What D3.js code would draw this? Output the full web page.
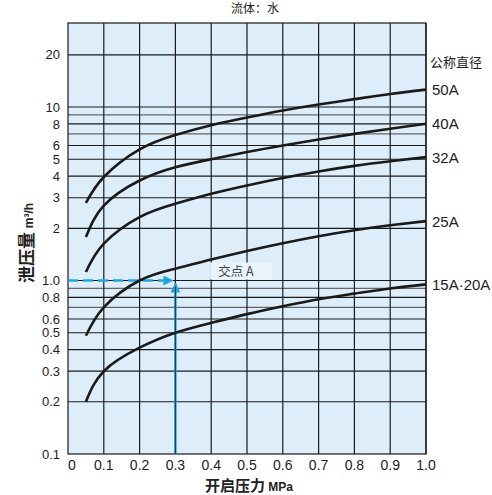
<!DOCTYPE html>
<html>
<head>
<meta charset="utf-8">
<script src="https://cdn.jsdelivr.net/npm/d3@7"></script>
<style>
  body { margin: 0; background: #fff; }
  svg { display: block; }
</style>
</head>
<body>
<div id="chart-area"></div>
<script>
// values
var pressure = [0.05, 0.1, 0.2, 0.3, 0.4, 0.5, 0.6, 0.7, 0.8, 0.9, 1.0];
var flow50A = [2.8, 3.95, 5.7, 6.9, 7.85, 8.7, 9.55, 10.35, 11.1, 11.9, 12.6];
var flow40A = [1.78, 2.7, 3.77, 4.5, 5.0, 5.5, 6.0, 6.5, 7.0, 7.5, 8.0];
var flow32A = [1.12, 1.63, 2.32, 2.77, 3.16, 3.53, 3.9, 4.25, 4.58, 4.87, 5.14];
var flow25A = [0.48, 0.7, 1.0, 1.17, 1.32, 1.48, 1.64, 1.8, 1.95, 2.08, 2.2];
var flow15A = [0.2, 0.3, 0.41, 0.5, 0.57, 0.64, 0.71, 0.78, 0.84, 0.9, 0.95];
var seriesNames = ['50A', '40A', '32A', '25A', '15A·20A'];

var xTicks = [0, 0.1, 0.2, 0.3, 0.4, 0.5, 0.6, 0.7, 0.8, 0.9, 1.0];
var yTicks = [0.1, 0.2, 0.3, 0.4, 0.5, 0.6, 0.8, 1.0, 2, 3, 4, 5, 6, 8, 10, 20];
var yGrid = [0.2, 0.3, 0.4, 0.5, 0.6, 0.7, 0.8, 0.9, 1, 2, 3, 4, 5, 6, 7, 8, 9, 10, 20];
var yMinor = [0.7, 0.9, 7, 9];
var pointA = { p: 0.3, q: 1.0 };

var margin = { top: 23, right: 66, bottom: 41, left: 68 },
	width = 492 - margin.left - margin.right,
	height = 495 - margin.top - margin.bottom;

var latin = 'Liberation Sans, Arial, sans-serif';
var cjk = '"Noto Sans CJK SC", sans-serif';

var svg = d3.select('#chart-area')
	.append('svg')
		.attr('width', 492)
		.attr('height', 495);

var g = svg.append('g')
	.attr('transform', 'translate(' + margin.left + ', ' + margin.top + ')');

var xScale = d3.scaleLinear()
	.domain([0, 1])
	.range([0, width]);

var yScale = d3.scaleLog()
	.domain([0.1, 30.5])
	.range([height, 0]);

// plot background
g.append('rect')
	.attr('width', width)
	.attr('height', height)
	.attr('fill', '#ddeefa');

// grid
g.selectAll('.hgrid')
	.data(yGrid)
	.enter().append('line')
		.attr('x1', 0)
		.attr('x2', width)
		.attr('y1', d => yScale(d))
		.attr('y2', d => yScale(d))
		.attr('stroke', d => yMinor.indexOf(d) >= 0 ? '#666' : '#1a1a1a')
		.attr('stroke-width', 1.2);

g.selectAll('.vgrid')
	.data(xTicks.slice(1))
	.enter().append('line')
		.attr('x1', d => xScale(d))
		.attr('x2', d => xScale(d))
		.attr('y1', 0)
		.attr('y2', height)
		.attr('stroke', '#1a1a1a')
		.attr('stroke-width', 1.2);

g.append('rect')
	.attr('width', width)
	.attr('height', height)
	.attr('fill', 'none')
	.attr('stroke', '#1a1a1a')
	.attr('stroke-width', 1.2);

// tick labels
g.selectAll('.ylab')
	.data(yTicks)
	.enter().append('text')
		.attr('x', -8)
		.attr('y', d => yScale(d))
		.attr('dy', '0.36em')
		.attr('text-anchor', 'end')
		.attr('font-family', latin)
		.attr('font-size', '13px')
		.attr('fill', '#222')
		.text(d => d < 1 ? d.toFixed(1) : (d === 1 ? '1.0' : d));

g.selectAll('.xlab')
	.data(xTicks)
	.enter().append('text')
		.attr('x', d => xScale(d) + (d === 0 ? 4 : 0))
		.attr('y', height + 16)
		.attr('text-anchor', 'middle')
		.attr('font-family', latin)
		.attr('font-size', '14px')
		.attr('fill', '#222')
		.text(d => d === 0 ? '0' : d.toFixed(1));

// point A guide lines
var blue = '#1fa6e0';
svg.append('defs').append('marker')
	.attr('id', 'arrow')
	.attr('viewBox', '0 0 10 10')
	.attr('refX', 9)
	.attr('refY', 5)
	.attr('markerWidth', 4)
	.attr('markerHeight', 4)
	.attr('orient', 'auto')
	.append('path')
		.attr('d', 'M0,0 L10,5 L0,10 z')
		.attr('fill', blue);

g.append('line')
	.attr('x1', 0)
	.attr('x2', xScale(pointA.p) - 3)
	.attr('y1', yScale(pointA.q))
	.attr('y2', yScale(pointA.q))
	.attr('stroke', blue)
	.attr('stroke-width', 2.5)
	.attr('stroke-dasharray', '10,5')
	.attr('marker-end', 'url(#arrow)');

g.append('line')
	.attr('x1', xScale(pointA.p))
	.attr('x2', xScale(pointA.p))
	.attr('y1', height)
	.attr('y2', yScale(pointA.q) + 3)
	.attr('stroke', blue)
	.attr('stroke-width', 2.5)
	.attr('marker-end', 'url(#arrow)');

g.append('line')
	.attr('x1', xScale(pointA.p))
	.attr('x2', xScale(pointA.p))
	.attr('y1', height)
	.attr('y2', yScale(pointA.q) + 6)
	.attr('stroke', '#1a1a1a')
	.attr('stroke-width', 0.8);

g.append('rect')
	.attr('x', xScale(0.4) - 1)
	.attr('y', yScale(pointA.q) - 18)
	.attr('width', 62)
	.attr('height', 17)
	.attr('fill', '#eaf4fc');

g.append('text')
	.attr('x', xScale(0.4) + 7)
	.attr('y', yScale(pointA.q) - 5)
	.attr('font-family', cjk)
	.attr('font-size', '12.5px')
	.attr('fill', '#444')
	.text('交点 A');

// curves
var series = [flow50A, flow40A, flow32A, flow25A, flow15A];
var line = d3.line()
	.x((d, i) => xScale(pressure[i]))
	.y(d => yScale(d))
	.curve(d3.curveNatural);

g.selectAll('.curve')
	.data(series)
	.enter().append('path')
		.attr('d', d => line(d))
		.attr('fill', 'none')
		.attr('stroke', '#1a1a1a')
		.attr('stroke-width', 2.6);

g.selectAll('.slab')
	.data(series)
	.enter().append('text')
		.attr('x', width + 6)
		.attr('y', d => yScale(d[d.length - 1]))
		.attr('dy', '0.36em')
		.attr('font-family', latin)
		.attr('font-size', '15px')
		.attr('fill', '#222')
		.text((d, i) => seriesNames[i]);

g.append('text')
	.attr('x', width + 4)
	.attr('y', yScale(20) + 12)
	.attr('font-family', cjk)
	.attr('font-size', '13px')
	.attr('fill', '#222')
	.text('公称直径');

// titles
svg.append('text')
	.attr('x', 255)
	.attr('y', 13)
	.attr('text-anchor', 'middle')
	.attr('font-family', cjk)
	.attr('font-size', '12px')
	.attr('fill', '#222')
	.text('流体：水');

var xt = svg.append('text')
	.attr('x', margin.left + width / 2 + 2)
	.attr('y', 491)
	.attr('text-anchor', 'middle')
	.attr('fill', '#222');
xt.append('tspan')
	.attr('font-family', cjk)
	.attr('font-weight', 'bold')
	.attr('font-size', '15px')
	.text('开启压力 ');
xt.append('tspan')
	.attr('font-family', latin)
	.attr('font-weight', 'bold')
	.attr('font-size', '12px')
	.text('MPa');

var yt = svg.append('text')
	.attr('transform', 'translate(33, ' + 243 + ') rotate(-90)')
	.attr('text-anchor', 'middle')
	.attr('fill', '#222');
yt.append('tspan')
	.attr('font-family', cjk)
	.attr('font-weight', 'bold')
	.attr('font-size', '17px')
	.text('泄压量 ');
yt.append('tspan')
	.attr('font-family', latin)
	.attr('font-weight', 'bold')
	.attr('font-size', '12px')
	.text('m³/h');
</script>
</body>
</html>
